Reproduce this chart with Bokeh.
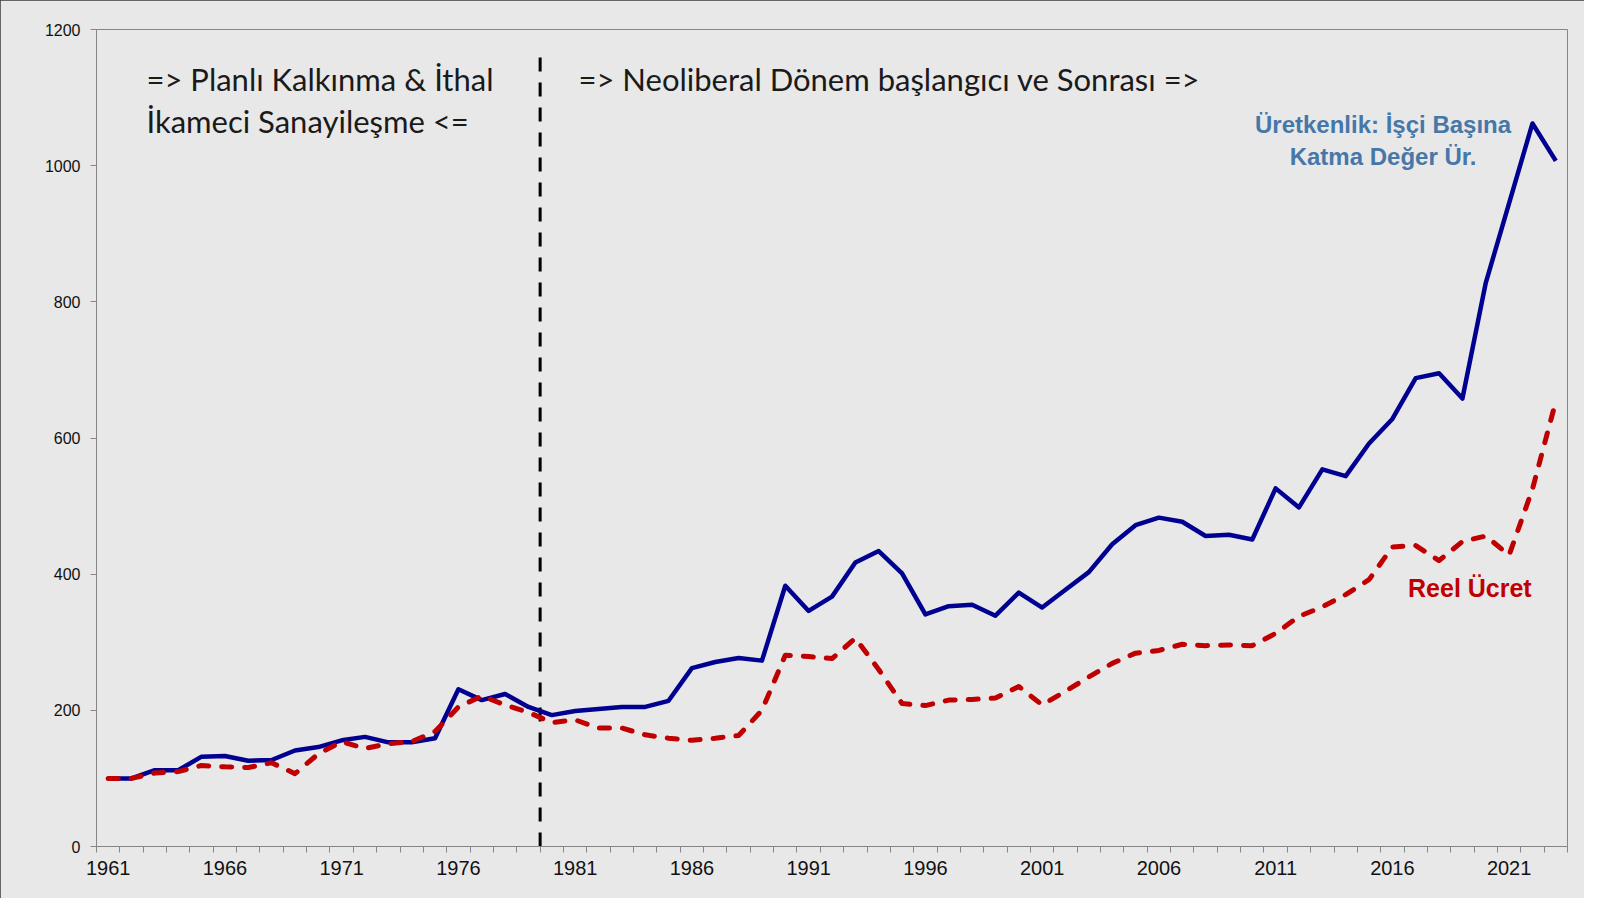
from bokeh.plotting import figure
from bokeh.models import Range1d, FixedTicker, Label
from bokeh.embed import file_html
from bokeh.resources import INLINE

years = list(range(1961, 2024))
productivity = [100, 100, 112, 112, 132, 133, 126, 127, 141, 146,
                156, 161, 153, 153, 159, 231, 215, 224, 205, 193,
                199, 202, 205, 205, 214, 262, 271, 277, 273, 383,
                346, 367, 417, 434, 401, 341, 353, 355, 339, 373,
                351, 377, 403, 444, 472, 483, 477, 456, 458, 451,
                526, 498, 554, 544, 592, 628, 688, 695, 658, 828,
                945, 1062, 1007]
real_wage = [100, 100, 108, 110, 119, 117, 116, 123, 107, 136,
             154, 144, 151, 154, 169, 205, 221, 208, 197, 182,
             186, 174, 174, 164, 159, 156, 159, 163, 200, 281,
             279, 276, 306, 260, 210, 207, 215, 216, 218, 235,
             208, 228, 249, 269, 284, 288, 297, 295, 296, 295,
             313, 338, 352, 370, 392, 440, 442, 420, 448, 456,
             428, 525, 654]
x_tick_labels = [1961, 1966, 1971, 1976, 1981, 1986, 1991, 1996, 2001, 2006, 2011, 2016, 2021]
y_ticks = [0, 200, 400, 600, 800, 1000, 1200]
divider_x = [1979.5]
divider_y0 = [0]
divider_y1 = [1175]

BG = "#E8E8E8"
AX = "#868686"

p = figure(width=1584, height=898,
           x_range=Range1d(years[0] - 0.5, years[-1] + 0.5),
           y_range=Range1d(0, 1200),
           output_backend="svg", toolbar_location=None,
           min_border_left=96, min_border_right=17,
           min_border_top=29, min_border_bottom=52)
p.background_fill_color = BG
p.border_fill_color = BG
p.outline_line_color = AX
p.outline_line_width = 1
p.xgrid.visible = False
p.ygrid.visible = False
p.styles = {"outline": "2px solid #3a3a3a", "outline-offset": "-2px"}

boundaries = [y - 0.5 for y in years] + [years[-1] + 0.5]
p.xaxis.ticker = FixedTicker(ticks=x_tick_labels, minor_ticks=boundaries)
p.xaxis.axis_line_color = AX
p.xaxis.major_tick_line_color = None
p.xaxis.major_tick_out = 0
p.xaxis.major_tick_in = 0
p.xaxis.minor_tick_line_color = AX
p.xaxis.minor_tick_out = 6
p.xaxis.minor_tick_in = 0
p.xaxis.major_label_text_font = "Liberation Sans"
p.xaxis.major_label_text_font_size = "20px"
p.xaxis.major_label_text_color = "#111111"
p.xaxis.major_label_standoff = 8

p.yaxis.ticker = FixedTicker(ticks=y_ticks)
p.yaxis.axis_line_color = AX
p.yaxis.major_tick_line_color = AX
p.yaxis.major_tick_out = 6
p.yaxis.major_tick_in = 0
p.yaxis.minor_tick_line_color = None
p.yaxis.major_label_text_font = "Liberation Sans"
p.yaxis.major_label_text_font_size = "16px"
p.yaxis.major_label_text_color = "#111111"
p.yaxis.major_label_standoff = 10

p.segment(x0=divider_x, y0=divider_y0, x1=divider_x, y1=divider_y1,
          line_color="black", line_width=3, line_dash="14 11")

p.line(years, productivity, line_color="#000091", line_width=4.5, line_join="round")
p.line(years, real_wage, line_color="#C00000", line_width=5, line_dash="10 13",
       line_cap="round", line_join="round")

def lab(x, y, text, font, size, color, style="normal", align="left"):
    p.add_layout(Label(x=x, y=y, text=text, text_font=font, text_font_size=size,
                       text_color=color, text_font_style=style,
                       text_align=align, text_baseline="middle"))

lab(1962.64, 1128, "=> Planlı Kalkınma & İthal", "Lato", "31px", "#1a1a1a")
lab(1962.64, 1066, "İkameci Sanayileşme  <=", "Lato", "31px", "#1a1a1a")
lab(1981.14, 1128, "=> Neoliberal Dönem başlangıcı ve Sonrası =>", "Lato", "31px", "#1a1a1a")
lab(2015.6, 1060, "Üretkenlik: İşçi Başına", "Liberation Sans", "24px", "#4677A8", "bold", "center")
lab(2015.6, 1013, "Katma Değer Ür.", "Liberation Sans", "24px", "#4677A8", "bold", "center")
lab(2016.67, 379, "Reel Ücret", "Liberation Sans", "25px", "#C00000", "bold", "left")

open("out.html", "w").write(file_html(p, INLINE))
